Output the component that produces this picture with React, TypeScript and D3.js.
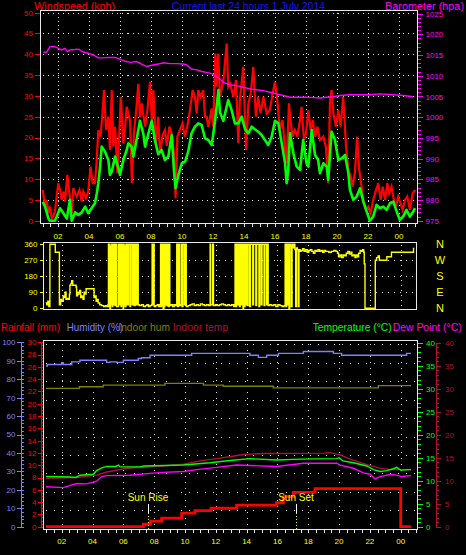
import React from 'react';
import * as d3 from 'd3';

type P = [number, number];

// ---------- time axis (minutes since 00:00 of the first day) ----------
const hourTicks = [120, 240, 360, 480, 600, 720, 840, 960, 1080, 1200, 1320, 1440];
const hourLabels = ['02', '04', '06', '08', '10', '12', '14', '16', '18', '20', '22', '00'];
const halfHourTicks = [60, 90, 120, 150, 180, 210, 240, 270, 300, 330, 360, 390, 420, 450, 480, 510, 540, 570, 600, 630, 660, 690, 720, 750, 780, 810, 840, 870, 900, 930, 960, 990, 1020, 1050, 1080, 1110, 1140, 1170, 1200, 1230, 1260, 1290, 1320, 1350, 1380, 1410, 1440, 1470, 1500];

// ---------- axis ticks ----------
const windTicks = [0, 5, 10, 15, 20, 25, 30, 35, 40, 45, 50];
const baroTicks = [975, 980, 985, 990, 995, 1000, 1005, 1010, 1015, 1020, 1025];
const dirTicks = [0, 90, 180, 270, 360];
const dirLetters = ['N', 'E', 'S', 'W', 'N'];
const humTicks = [0, 10, 20, 30, 40, 50, 60, 70, 80, 90, 100];
const rainTicks = [0, 2, 4, 6, 8, 10, 12, 14, 16, 18, 20, 22, 24, 26, 28, 30];
const tempTicks = [0, 5, 10, 15, 20, 25, 30, 35, 40];

// ---------- top chart: wind (kph) ----------
const windGust: P[] = [
  [61, 7.4], [70, 3.4], [76, 5], [83, 1.8], [89, 3.4], [96, 0.6], [102, 1], [108, 2.2], [121, 9], [128, 7.4], [134, 5], [141, 7], [147, 4.6], [156, 11], [164, 6.6], [173, 1.8], [179, 7.8], [192, 5.8], [203, 7.4], [212, 4.6], [218, 7], [228, 5.4], [237, 7], [246, 13], [254, 9], [263, 9], [270, 14.6], [276, 21.8], [285, 20.2], [293, 26.6], [298, 31.4], [306, 21.8], [315, 25], [321, 17], [328, 31.4], [334, 17.8], [341, 22.6], [350, 11.4], [357, 20.2], [363, 29.8], [373, 18.6], [379, 21.8], [386, 27.4], [399, 24], [406, 9], [414, 21], [424, 27.4], [431, 32.9], [437, 24.9], [444, 28.2], [457, 22.6], [466, 26.6], [476, 33.4], [483, 24.2], [489, 31.4], [499, 18.6], [508, 25], [515, 16.2], [525, 20.6], [534, 21.8], [541, 18], [551, 22.6], [560, 21], [569, 16.2], [575, 5.4], [582, 20.2], [592, 21.8], [602, 23.4], [611, 20.2], [620, 22.6], [631, 26.6], [641, 31.4], [650, 29.8], [657, 25.8], [663, 31.4], [672, 29.8], [682, 31.4], [689, 25], [695, 25], [702, 22.6], [715, 27], [721, 22.6], [729, 40.2], [734, 32.2], [740, 40.2], [747, 29.8], [760, 33.8], [773, 42.6], [779, 32.2], [786, 33], [799, 29.8], [809, 33.8], [818, 18.6], [824, 29], [837, 37], [848, 17], [857, 28.2], [866, 30.6], [876, 37], [886, 25], [895, 29.8], [904, 25.8], [915, 29.8], [928, 25.8], [940, 26.6], [951, 30.6], [960, 33.4], [969, 29], [979, 21.8], [989, 24.2], [999, 17], [1005, 13.8], [1014, 28.2], [1020, 24.2], [1028, 20.2], [1037, 21.8], [1046, 20.2], [1057, 24.2], [1063, 27.4], [1072, 19.4], [1080, 21], [1089, 26.6], [1098, 21.8], [1106, 24.2], [1115, 20.2], [1124, 22.6], [1134, 19.4], [1147, 20.2], [1157, 17.8], [1166, 9], [1173, 29], [1179, 31.4], [1186, 25.8], [1196, 22.6], [1205, 26.6], [1214, 22.6], [1224, 29.8], [1235, 17.8], [1244, 12.2], [1253, 10.6], [1260, 8.2], [1269, 11.4], [1278, 20.2], [1286, 12.2], [1295, 8.2], [1304, 4.2], [1312, 2.6], [1321, 3.4], [1330, 1.8], [1340, 5], [1351, 7.4], [1360, 9], [1369, 5], [1377, 8.2], [1386, 5], [1395, 9], [1402, 6.6], [1411, 8.2], [1420, 5], [1428, 3.4], [1437, 5.8], [1446, 4.2], [1454, 2.6], [1463, 5], [1472, 5.8], [1482, 2.6], [1493, 6.6], [1502, 7.4],
];

const windAvg: P[] = [
  [61, 4.5], [70, 3.4], [83, 0.5], [89, 0], [108, 0], [115, 1], [128, 3], [141, 1.8], [154, 0.5], [166, 5], [173, 0], [186, 2], [199, 1.4], [212, 2], [225, 3.4], [237, 1.8], [250, 3], [263, 4.2], [270, 6.5], [276, 9], [283, 13], [289, 17.8], [302, 16.6], [315, 14.6], [321, 11], [328, 11.8], [341, 15.4], [354, 12.6], [360, 11], [373, 14.6], [386, 17], [392, 18.6], [405, 17.8], [412, 15.4], [424, 19.4], [437, 24], [450, 21], [457, 17.8], [470, 21], [483, 24], [495, 19.4], [508, 16], [521, 17], [534, 14.6], [547, 15.4], [560, 20.6], [569, 12], [575, 7.8], [586, 11], [599, 13.8], [612, 14.2], [624, 16.6], [637, 21], [650, 22.6], [663, 23.4], [676, 23], [689, 19.8], [702, 19.4], [715, 18.2], [728, 24], [741, 31.4], [747, 26], [760, 24], [779, 29], [792, 26.6], [805, 23.4], [818, 23.4], [831, 25], [844, 22], [857, 21], [870, 22.6], [882, 22], [895, 21.4], [908, 20.6], [921, 19.4], [934, 18.2], [947, 20.2], [960, 24], [973, 23.4], [986, 18.6], [999, 13.8], [1005, 9], [1011, 12], [1018, 21], [1031, 16.2], [1044, 13], [1057, 12.2], [1069, 19.4], [1082, 13.8], [1089, 13], [1102, 21.8], [1115, 15.8], [1127, 14.6], [1134, 11.4], [1147, 13.8], [1160, 13], [1166, 9.8], [1179, 21.4], [1192, 19.4], [1205, 14.6], [1218, 15], [1231, 15.8], [1244, 11.4], [1250, 7.4], [1263, 5], [1276, 5.8], [1289, 7.8], [1302, 4.6], [1315, 2.2], [1327, 0], [1340, 1], [1353, 3.8], [1366, 3], [1379, 3.4], [1392, 2.6], [1405, 4.2], [1418, 4.6], [1431, 2.2], [1443, 0.2], [1456, 1], [1469, 2.6], [1482, 1], [1495, 2.2], [1502, 3],
];

const barometer: P[] = [
  [63, 1015.6], [76, 1015.7], [89, 1017], [108, 1017], [121, 1016.6], [134, 1016.2], [147, 1016.6], [156, 1015.8], [166, 1016.2], [186, 1016.3], [199, 1016.4], [218, 1015.7], [237, 1015.4], [257, 1015], [276, 1014.3], [295, 1014.3], [315, 1014.4], [341, 1014.4], [360, 1014], [379, 1013.5], [399, 1013.2], [424, 1013.4], [444, 1012.8], [463, 1012.2], [483, 1012.5], [508, 1012.8], [528, 1013.1], [553, 1012.9], [579, 1012.9], [605, 1012.8], [618, 1012.6], [637, 1011.6], [657, 1011.4], [676, 1011], [695, 1010.8], [715, 1010.5], [728, 1010], [747, 1009.2], [760, 1008.4], [786, 1007.8], [811, 1007.6], [837, 1007.2], [863, 1006.8], [889, 1006.6], [915, 1006.4], [940, 1006], [966, 1005.6], [992, 1005.2], [1018, 1004.8], [1044, 1004.8], [1082, 1004.8], [1108, 1004.7], [1134, 1004.6], [1160, 1004.8], [1186, 1004.9], [1212, 1005.2], [1250, 1005.4], [1289, 1005.4], [1327, 1005.4], [1366, 1005.6], [1418, 1005.4], [1456, 1005.2], [1495, 1004.9],
];

// ---------- middle chart: wind direction (degrees) ----------
const windDir: P[] = [
  [58, 30], [62, 20], [66, 40], [70, 10], [74, 360], [94, 360], [95, 315], [110, 315], [111, 20], [116, 50], [120, 40], [126, 70], [130, 60], [133, 90], [137, 50], [142, 55], [146, 50], [150, 80], [152, 130], [156, 140], [159, 155], [163, 130], [168, 130], [176, 120], [178, 70], [182, 90], [186, 80], [190, 100], [194, 60], [198, 70], [203, 50], [207, 90], [212, 80], [215, 110], [243, 110], [246, 60], [250, 70], [254, 40], [258, 50], [262, 30], [268, 20], [275, 15], [283, 10], [290, 15], [296, 10], [300, 20],
  [302, 360], [304, 10], [306, 360], [308, 0], [310, 350], [313, 20], [315, 360], [317, 10], [319, 360], [322, 20], [325, 360], [328, 15], [331, 360], [334, 10], [338, 10], [341, 360], [343, 20], [346, 360], [349, 360], [351, 10], [353, 360], [355, 20], [357, 360], [359, 0], [361, 360], [363, 20], [365, 350], [367, 10], [370, 360], [373, 360], [375, 20], [378, 20], [380, 360], [384, 360], [386, 10], [388, 360], [392, 360], [394, 20], [398, 360], [400, 360], [402, 15], [406, 360], [408, 350], [410, 20], [413, 360], [416, 360], [418, 20],
  [422, 15], [430, 20], [438, 10], [446, 15], [452, 20], [458, 10], [464, 15], [470, 20], [472, 360], [474, 20], [477, 360], [480, 10], [486, 15], [492, 20], [498, 10], [503, 20],
  [505, 360], [507, 10], [509, 360], [511, 20], [513, 360], [515, 0], [518, 360], [520, 10], [522, 360], [525, 20], [527, 360], [530, 15], [532, 360], [535, 10], [538, 360], [541, 15],
  [546, 20], [552, 10], [558, 20], [564, 15],
  [568, 360], [571, 10], [575, 360], [578, 15], [582, 20], [585, 360], [588, 10], [592, 360], [596, 360], [598, 20], [602, 360], [605, 10],
  [612, 15], [620, 20], [628, 25], [636, 15], [644, 20], [652, 15], [660, 25], [668, 20], [676, 15], [684, 20], [692, 15], [698, 360], [700, 20], [708, 360], [711, 15],
  [718, 20], [726, 15], [734, 20], [742, 25], [750, 20], [758, 15], [766, 20], [774, 15], [782, 20], [790, 10],
  [795, 360], [798, 10], [801, 360], [804, 20], [807, 360], [810, 360], [812, 10], [815, 360], [818, 360], [820, 20], [823, 360], [826, 0], [828, 360], [831, 10], [834, 360], [837, 20], [840, 360], [843, 15], [846, 360], [849, 360], [852, 10], [855, 360], [858, 360], [861, 360], [864, 20], [867, 360], [870, 360], [873, 360], [876, 15], [879, 360], [882, 360], [885, 360], [888, 10], [891, 360], [894, 360], [897, 20], [900, 360], [905, 360], [908, 15], [911, 360], [915, 360], [918, 20], [921, 360], [924, 15],
  [930, 20], [938, 15], [946, 20], [954, 10], [962, 20], [970, 15], [978, 10], [986, 15],
  [990, 360], [993, 10], [996, 360], [999, 20], [1002, 360], [1005, 0], [1008, 360], [1011, 350], [1014, 10], [1017, 360], [1020, 340], [1024, 360], [1028, 330], [1031, 10], [1034, 340], [1038, 330], [1041, 10], [1044, 330], [1048, 320],
  [1052, 325], [1058, 335], [1064, 320], [1070, 330], [1076, 315], [1082, 325], [1088, 330], [1094, 320], [1100, 310], [1106, 325], [1112, 320], [1118, 330], [1124, 320], [1130, 325], [1136, 315], [1142, 325], [1148, 320], [1160, 315], [1170, 320], [1180, 325], [1188, 320], [1194, 310], [1198, 290], [1204, 300], [1210, 285], [1216, 300], [1222, 295], [1228, 310], [1234, 320], [1240, 305], [1246, 315], [1250, 295], [1256, 300], [1262, 285], [1266, 300], [1272, 290], [1276, 310], [1282, 325], [1288, 320], [1292, 330], [1296, 315], [1298, 250], [1301, 0],
  [1340, 0], [1341, 270], [1346, 285], [1352, 295], [1357, 270], [1385, 270], [1386, 290], [1402, 290], [1404, 315], [1488, 315], [1490, 337], [1493, 337],
];

// ---------- bottom chart ----------
const humidity: P[] = [
  [59, 87.1], [64, 88], [120, 89], [126, 88], [159, 89.4], [191, 90.3], [295, 89.1], [308, 89.4], [334, 89.1], [360, 90.3], [418, 91.2], [431, 91.6], [464, 93], [626, 94], [853, 93], [886, 91.8], [918, 93], [964, 94], [1061, 95], [1178, 94], [1210, 93], [1463, 94], [1480, 94],
];
const indoorHum: P[] = [
  [59, 75], [189, 75.9], [282, 76.8], [522, 77.7], [672, 76.8], [749, 76.2], [944, 75.3], [1353, 76.5], [1480, 76.5],
];
const indoorTemp: P[] = [
  [59, 10.5], [178, 10.7], [256, 11.2], [295, 11.9], [373, 12.7], [516, 13.2], [594, 13.6], [659, 14.3], [723, 14.8], [775, 15.2], [827, 15.7], [905, 15.9], [1139, 16.0], [1165, 16.1], [1204, 15.6], [1243, 14.7], [1308, 13.5], [1353, 12.8], [1399, 12.4], [1480, 12.4],
];
const temperature: P[] = [
  [59, 10.9], [152, 10.8], [175, 10.7], [191, 11.2], [243, 11.4], [256, 12.2], [276, 12.8], [295, 13.1], [330, 13.1], [341, 13.4], [347, 13.0], [425, 13.0], [440, 13.2], [594, 13.4], [698, 13.9], [775, 14.4], [853, 14.8], [957, 14.5], [1048, 14.7], [1191, 14.8], [1200, 15.0], [1215, 14.3], [1256, 13.9], [1308, 13.2], [1334, 12.4], [1360, 12.0], [1385, 12.2], [1411, 12.6], [1424, 12.9], [1440, 12.3], [1480, 12.4],
];
const dewPoint: P[] = [
  [59, 8.7], [126, 8.5], [178, 9.4], [217, 9.3], [256, 9.9], [276, 10.9], [295, 11.1], [386, 11.2], [464, 11.6], [516, 11.8], [594, 12.0], [646, 12.4], [723, 12.9], [801, 13.4], [853, 13.3], [957, 13.1], [1061, 13.8], [1191, 13.8], [1204, 13.4], [1256, 12.7], [1295, 11.7], [1320, 11.4], [1340, 10.4], [1360, 10.9], [1400, 11.4], [1424, 11.2], [1444, 10.9], [1480, 11.1],
];
const rainfall: P[] = [
  [59, 0], [438, 0.4], [466, 0.9], [509, 1.4], [587, 2.2], [639, 2.6], [701, 3.0], [801, 3.5], [957, 3.9], [983, 4.9], [1022, 5.6], [1106, 6.2], [1440, 0], [1480, 0],
];
const sunEvents = [
  { label: 'Sun Rise', t: 457 },
  { label: 'Sun Set', t: 1032 },
];

const FONT = 'Liberation Sans, Arial, sans-serif';
const RED = '#ff0000';
const GREEN = '#00ff00';
const MAG = '#ff00ff';
const YEL = '#ffff00';
const HUMC = '#8080ff';
const IHUMC = '#808000';
const ITEMPC = '#b0103c';
const FRAME = '#e8e8e8';
const DOT = '#e0e0e0';

export default function App() {
  const xT = d3.scaleLinear().domain([120, 1440]).range([58, 399]);
  const xB = d3.scaleLinear().domain([120, 1440]).range([61.7, 400.7]);
  const yW = d3.scaleLinear().domain([0, 50]).range([220.7, 12.7]);
  const yP = d3.scaleLinear().domain([975, 1025]).range([220.7, 13.5]);
  const yD = d3.scaleLinear().domain([0, 360]).range([308.3, 244.3]);
  const yH = d3.scaleLinear().domain([0, 100]).range([526.7, 342.3]);
  const yR = d3.scaleLinear().domain([0, 30]).range([526.7, 342.3]);
  const yT = d3.scaleLinear().domain([0, 40]).range([526.7, 342.7]);

  const mk = (xs: any, ys: any, curve: any = d3.curveLinear) =>
    d3.line<P>().x((d) => xs(d[0])).y((d) => ys(d[1])).curve(curve);

  const lineGust = mk(xT, yW)(windGust) || '';
  const lineAvg = mk(xT, yW)(windAvg) || '';
  const lineBaro = mk(xT, yP)(barometer) || '';
  const lineDir = mk(xB, yD, d3.curveStepAfter)(windDir) || '';
  const lineHum = mk(xB, yH, d3.curveStepAfter)(humidity) || '';
  const lineIHum = mk(xB, yH, d3.curveStepAfter)(indoorHum) || '';
  const lineITemp = mk(xB, yT)(indoorTemp) || '';
  const lineTemp = mk(xB, yT)(temperature) || '';
  const lineDew = mk(xB, yT)(dewPoint) || '';
  const lineRain = mk(xB, yR, d3.curveStepAfter)(rainfall) || '';

  const baroMinor = d3.range(975, 1026, 1);
  const humMinor = d3.range(0, 101, 2);
  const rainMinor = d3.range(0, 30.01, 0.5);
  const tempMinor = d3.range(0, 41, 1);

  const top = { l: 40.5, r: 417.5, t: 10.5, b: 223 };
  const mid = { l: 43.5, r: 416.5, t: 242.5, b: 309.5 };
  const bot = { l: 43.5, r: 417, t: 340.5, b: 529.5 };

  return (
    <div style={{ position: 'absolute', left: 0, top: 0, width: 466, height: 555, background: '#000' }}>
      <svg width={466} height={555} style={{ display: 'block' }} fontFamily={FONT}>
        <rect x={0} y={0} width={466} height={555} fill="#000" />

        {/* ===== TITLES ===== */}
        <text x={34.3} y={9.5} fill={RED} fontSize={10.5} textLength={80.7} lengthAdjust="spacingAndGlyphs">Windspeed (kph)</text>
        <text x={171.7} y={9.5} fill="#1414ff" fontSize={10.5} textLength={153.3} lengthAdjust="spacingAndGlyphs">Current last 24 hours 1 July 2014</text>
        <text x={385} y={9.5} fill={MAG} fontSize={10.5} textLength={79} lengthAdjust="spacingAndGlyphs">Barometer (hpa)</text>

        {/* ===== TOP CHART ===== */}
        <g shapeRendering="crispEdges">
          {hourTicks.map((t) => (
            <line key={'tv' + t} x1={Math.round(xT(t)) + 0.5} x2={Math.round(xT(t)) + 0.5} y1={top.t + 2} y2={top.b - 1} stroke={DOT} strokeDasharray="1 3" />
          ))}
          {windTicks.filter((v) => v > 0).map((v) => (
            <line key={'th' + v} x1={top.l + 2} x2={top.r - 1} y1={Math.round(yW(v)) + 0.5} y2={Math.round(yW(v)) + 0.5} stroke={DOT} strokeDasharray="1 4" />
          ))}
        </g>
        <path d={lineGust} fill="none" stroke={RED} strokeWidth={2.2} strokeLinejoin="miter" />
        <path d={lineAvg} fill="none" stroke={GREEN} strokeWidth={2.6} strokeLinejoin="round" />
        <path d={lineBaro} fill="none" stroke={MAG} strokeWidth={1.4} />
        <g shapeRendering="crispEdges">
          <rect x={top.l} y={top.t} width={top.r - top.l} height={top.b - top.t} fill="none" stroke={FRAME} strokeWidth={1} />
          {halfHourTicks.map((t) => (
            <line key={'tt' + t} x1={Math.round(xT(t)) + 0.5} x2={Math.round(xT(t)) + 0.5} y1={top.b} y2={top.b + 3.5} stroke={FRAME} />
          ))}
          {windTicks.map((v) => (
            <line key={'wt' + v} x1={35} x2={39.5} y1={Math.round(yW(v)) + 0.5} y2={Math.round(yW(v)) + 0.5} stroke={RED} />
          ))}
          {baroMinor.map((v) => (
            <line key={'bm' + v} x1={418} x2={v % 5 === 0 ? 423 : 421} y1={Math.round(yP(v)) + 0.5} y2={Math.round(yP(v)) + 0.5} stroke={MAG} />
          ))}
        </g>
        {windTicks.map((v) => (
          <text key={'wl' + v} x={33} y={yW(v) + 2.9} fill={RED} fontSize={8} textAnchor="end">{v}</text>
        ))}
        {baroTicks.map((v) => (
          <text key={'bl' + v} x={425.5} y={yP(v) + 3.2} fill={MAG} fontSize={8}>{v}</text>
        ))}
        {hourTicks.map((t, i) => (
          <text key={'hl' + t} x={xT(t)} y={238.8} fill={YEL} fontSize={8} textAnchor="middle">{hourLabels[i]}</text>
        ))}

        {/* ===== MIDDLE CHART (wind direction) ===== */}
        <g shapeRendering="crispEdges">
          {hourTicks.map((t) => (
            <line key={'mv' + t} x1={Math.round(xB(t)) + 0.5} x2={Math.round(xB(t)) + 0.5} y1={mid.t + 2} y2={mid.b - 1} stroke={DOT} strokeDasharray="1 4" />
          ))}
          {dirTicks.filter((v) => v > 0 && v < 360).map((v) => (
            <line key={'mh' + v} x1={mid.l + 2} x2={mid.r - 1} y1={Math.round(yD(v)) + 0.5} y2={Math.round(yD(v)) + 0.5} stroke={DOT} strokeDasharray="1 5" />
          ))}
        </g>
        <path d={lineDir} fill="none" stroke={YEL} strokeWidth={1.4} />
        <g shapeRendering="crispEdges">
          <rect x={mid.l} y={mid.t} width={mid.r - mid.l} height={mid.b - mid.t} fill="none" stroke={FRAME} strokeWidth={1} />
          {dirTicks.map((v) => (
            <line key={'dt' + v} x1={39.5} x2={43} y1={Math.round(yD(v)) + 0.5} y2={Math.round(yD(v)) + 0.5} stroke={YEL} />
          ))}
        </g>
        {dirTicks.map((v) => (
          <text key={'dl' + v} x={37.5} y={yD(v) + 2.9} fill={YEL} fontSize={8} textAnchor="end">{v}</text>
        ))}
        {dirTicks.map((v, i) => (
          <text key={'dn' + v} x={440} y={yD(v) + 4} fill={YEL} fontSize={11} textAnchor="middle">{dirLetters[i]}</text>
        ))}

        {/* ===== LEGEND (bottom chart) ===== */}
        <text x={0.7} y={330.7} fill={RED} fontSize={10.5} textLength={59.3} lengthAdjust="spacingAndGlyphs">Rainfall (mm)</text>
        <text x={66.7} y={330.7} fill={HUMC} fontSize={10.5} textLength={56.3} lengthAdjust="spacingAndGlyphs">Humidity (%)</text>
        <text x={118.3} y={330.7} fill={IHUMC} fontSize={10.5} textLength={51.7} lengthAdjust="spacingAndGlyphs">Indoor hum</text>
        <text x={172.7} y={330.7} fill={ITEMPC} fontSize={10.5} textLength={55.6} lengthAdjust="spacingAndGlyphs">Indoor temp</text>
        <text x={312.7} y={330.7} fill={GREEN} fontSize={10.5} textLength={79} lengthAdjust="spacingAndGlyphs">Temperature (°C)</text>
        <text x={392.7} y={330.7} fill={MAG} fontSize={10.5} textLength={69} lengthAdjust="spacingAndGlyphs">Dew Point (°C)</text>

        {/* ===== BOTTOM CHART ===== */}
        <g shapeRendering="crispEdges">
          {hourTicks.map((t) => (
            <line key={'bv' + t} x1={Math.round(xB(t)) + 0.5} x2={Math.round(xB(t)) + 0.5} y1={bot.t + 3} y2={bot.b - 1} stroke={DOT} strokeDasharray="1 5" />
          ))}
          {humTicks.filter((v) => v > 0).map((v) => (
            <line key={'bh' + v} x1={bot.l + 2} x2={bot.r - 1} y1={Math.round(yH(v)) + 2.5} y2={Math.round(yH(v)) + 2.5} stroke={DOT} strokeDasharray="1 7" />
          ))}
        </g>
        <path d={lineHum} fill="none" stroke={HUMC} strokeWidth={1.4} />
        <path d={lineIHum} fill="none" stroke={IHUMC} strokeWidth={1.4} />
        <path d={lineITemp} fill="none" stroke={ITEMPC} strokeWidth={1.4} />
        <path d={lineTemp} fill="none" stroke={GREEN} strokeWidth={1.4} />
        <path d={lineDew} fill="none" stroke={MAG} strokeWidth={1.4} />
        <path d={lineRain} fill="none" stroke={RED} strokeWidth={2.8} />

        {sunEvents.map((s) => {
          const x = Math.round(xB(s.t)) + 0.5;
          return (
            <g key={s.label}>
              <line x1={x} x2={x} y1={503.5} y2={512.5} stroke="#ffffff" strokeWidth={1} shapeRendering="crispEdges" />
              <line x1={x} x2={x} y1={512.5} y2={529} stroke={YEL} strokeWidth={1} strokeDasharray="1 2" shapeRendering="crispEdges" />
              <text x={x - 0.5} y={501} fill={YEL} fontSize={10} textAnchor="middle">{s.label}</text>
            </g>
          );
        })}

        <g shapeRendering="crispEdges">
          <rect x={bot.l} y={bot.t} width={bot.r - bot.l} height={bot.b - bot.t} fill="none" stroke={FRAME} strokeWidth={1} />
          {halfHourTicks.map((t) => (
            <line key={'bt' + t} x1={Math.round(xB(t)) + 0.5} x2={Math.round(xB(t)) + 0.5} y1={bot.b} y2={bot.b + 3.5} stroke={FRAME} />
          ))}
          <line x1={21.5} x2={21.5} y1={yH(100)} y2={yH(0) + 1} stroke={HUMC} strokeWidth={1.2} />
          {humTicks.map((v) => (
            <line key={'hmt' + v} x1={17} x2={21.5} y1={Math.round(yH(v)) + 0.5} y2={Math.round(yH(v)) + 0.5} stroke={HUMC} />
          ))}
          {humMinor.map((v) => (
            <line key={'hmm' + v} x1={21.5} x2={23.5} y1={Math.round(yH(v)) + 0.5} y2={Math.round(yH(v)) + 0.5} stroke={HUMC} />
          ))}
          <line x1={41.5} x2={41.5} y1={yR(30)} y2={yR(0) + 1} stroke={RED} strokeWidth={1} />
          {rainTicks.map((v) => (
            <line key={'rt' + v} x1={37.5} x2={41.5} y1={Math.round(yR(v)) + 0.5} y2={Math.round(yR(v)) + 0.5} stroke={RED} />
          ))}
          {rainMinor.map((v) => (
            <line key={'rm' + v} x1={41.5} x2={43} y1={Math.round(yR(v)) + 0.5} y2={Math.round(yR(v)) + 0.5} stroke={RED} />
          ))}
          {tempMinor.map((v) => (
            <line key={'tm' + v} x1={418} x2={v % 5 === 0 ? 422.5 : 420.5} y1={Math.round(yT(v)) + 0.5} y2={Math.round(yT(v)) + 0.5} stroke={GREEN} />
          ))}
          <line x1={436.5} x2={436.5} y1={yT(40)} y2={yT(0) + 1} stroke={ITEMPC} strokeWidth={1.2} />
          {tempMinor.map((v) => (
            <line key={'im' + v} x1={436.5} x2={v % 5 === 0 ? 440.5 : 439} y1={Math.round(yT(v)) + 0.5} y2={Math.round(yT(v)) + 0.5} stroke={ITEMPC} />
          ))}
        </g>
        {humTicks.map((v) => (
          <text key={'hul' + v} x={15.5} y={yH(v) + 2.9} fill={HUMC} fontSize={8} textAnchor="end">{v}</text>
        ))}
        {rainTicks.map((v) => (
          <text key={'ral' + v} x={36.5} y={yR(v) + 2.9} fill={RED} fontSize={8} textAnchor="end">{v}</text>
        ))}
        {tempTicks.map((v) => (
          <text key={'tel' + v} x={426} y={yT(v) + 2.9} fill={GREEN} fontSize={8}>{v}</text>
        ))}
        {tempTicks.map((v) => (
          <text key={'itl' + v} x={445} y={yT(v) + 2.9} fill={ITEMPC} fontSize={8}>{v}</text>
        ))}
        {hourTicks.map((t, i) => (
          <text key={'bhl' + t} x={xB(t)} y={543.5} fill={YEL} fontSize={8} textAnchor="middle">{hourLabels[i]}</text>
        ))}
      </svg>
    </div>
  );
}
